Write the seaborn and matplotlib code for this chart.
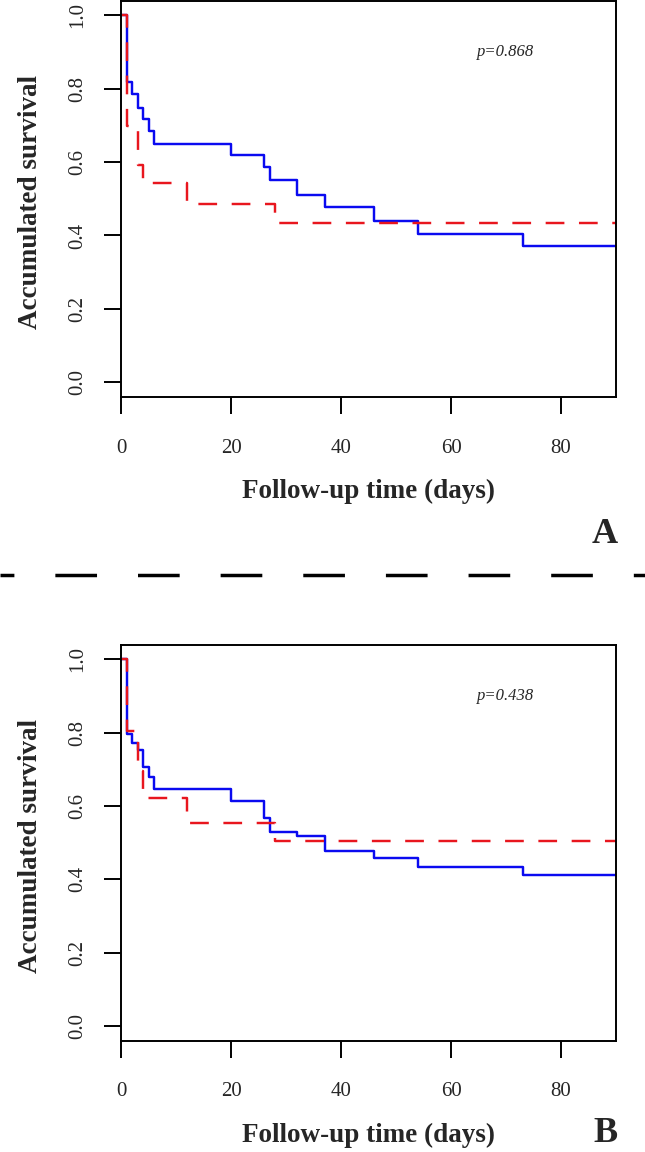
import numpy as np
import pandas as pd
import matplotlib
matplotlib.use("Agg")
import matplotlib.pyplot as plt
from matplotlib.lines import Line2D
import seaborn as sns

# ---- data ----
a_blue_time = [0, 1, 2, 3, 4, 5, 6, 20, 26, 27, 32, 37, 46, 54, 73, 90]
a_blue_surv = [1.0, 0.818, 0.785, 0.746, 0.716, 0.685, 0.650, 0.618, 0.586, 0.550,
               0.511, 0.477, 0.439, 0.403, 0.371, 0.371]
a_red_time = [0, 1, 3, 4, 12, 28, 90]
a_red_surv = [1.0, 0.697, 0.593, 0.543, 0.486, 0.435, 0.435]

b_blue_time = [0, 1, 2, 3, 4, 5, 6, 20, 26, 27, 32, 37, 46, 54, 73, 90]
b_blue_surv = [1.0, 0.795, 0.771, 0.753, 0.707, 0.678, 0.646, 0.614, 0.566, 0.528,
               0.519, 0.477, 0.457, 0.434, 0.412, 0.412]
b_red_time = [0, 1, 3, 4, 12, 28, 90]
b_red_surv = [1.0, 0.805, 0.694, 0.623, 0.553, 0.505, 0.505]

x_ticks = [0, 20, 40, 60, 80]
y_ticks = [0.0, 0.2, 0.4, 0.6, 0.8, 1.0]
p_values = ["p=0.868", "p=0.438"]
panel_letters = ["A", "B"]
x_label = "Follow-up time (days)"
y_label = "Accumulated survival"

# ---- style ----
sns.set_style("ticks")
plt.rcParams["font.family"] = ["Liberation Serif", "DejaVu Serif"]

W, H = 645, 1152
fig = plt.figure(figsize=(W / 100, H / 100), dpi=100)

BLUE = "#0a0af0"
RED = "#e8161e"
LW = 1.75


def px_axes(left, top, right, bottom):
    return [left / W, 1 - bottom / H, (right - left) / W, (bottom - top) / H]


panels = [
    (px_axes(121, 0.5, 616, 397), a_blue_time, a_blue_surv, a_red_time, a_red_surv),
    (px_axes(121, 644.6, 616, 1040.7), b_blue_time, b_blue_surv, b_red_time, b_red_surv),
]

for i, (rect, bt, bs, rt, rs) in enumerate(panels):
    ax = fig.add_axes(rect)
    dfb = pd.DataFrame({"time": bt, "surv": bs})
    dfr = pd.DataFrame({"time": rt, "surv": rs})
    sns.lineplot(data=dfb, x="time", y="surv", ax=ax, color=BLUE, lw=LW,
                 drawstyle="steps-post", estimator=None, sort=False)
    sns.lineplot(data=dfr, x="time", y="surv", ax=ax, color=RED, lw=LW,
                 drawstyle="steps-post", estimator=None, sort=False,
                 linestyle=(0, (7.7, 6.0)))
    ax.set_xlim(0, 90)
    ax.set_ylim(-0.04, 1.04)
    ax.set_xticks(x_ticks)
    ax.set_xticklabels([str(v) for v in x_ticks], fontsize=15)
    ax.set_yticks(y_ticks)
    ax.set_yticklabels([f"{v:.1f}" for v in y_ticks], fontsize=15,
                       rotation=90, va="center")
    ax.tick_params(axis="both", direction="out", length=12, width=1.4, color="black")
    ax.tick_params(axis="x", pad=18)
    ax.tick_params(axis="y", pad=12)
    ax.set_xlabel("")
    ax.set_ylabel("")
    for sp in ax.spines.values():
        sp.set_visible(True)
        sp.set_linewidth(1.4)
        sp.set_color("black")
    ax.text(70, 0.9, p_values[i], fontsize=12, style="italic",
            ha="center", va="center")

    top_px = 0.5 if i == 0 else 644.6
    bot_px = 397 if i == 0 else 1040.7
    mid_px = (top_px + bot_px) / 2 + 3
    # y label
    fig.text(36.7 / W, 1 - mid_px / H, y_label, rotation=90, rotation_mode="anchor",
             ha="center", va="baseline", fontsize=19.5, fontweight="bold")
    # x label
    fig.text(368.5 / W, 1 - (bot_px + 101) / H, x_label, ha="center",
             va="baseline", fontsize=19.5, fontweight="bold")

# panel letters
fig.text(605 / W, 1 - 543 / H, panel_letters[0],
         ha="center", va="baseline", fontsize=26, fontweight="bold")
fig.text(605 / W, 1 - 1150.5 / H, panel_letters[1],
         ha="center", va="bottom", fontsize=26, fontweight="bold")

# separator dashed line
sep_y = 1 - 575 / H
fig.add_artist(Line2D([0, 1], [sep_y, sep_y], transform=fig.transFigure,
                      color="black", lw=2.5, linestyle=(8.0, (12.0, 11.8)),
                      solid_capstyle="butt", dash_capstyle="butt"))

fig.savefig("out.png", dpi=100)
